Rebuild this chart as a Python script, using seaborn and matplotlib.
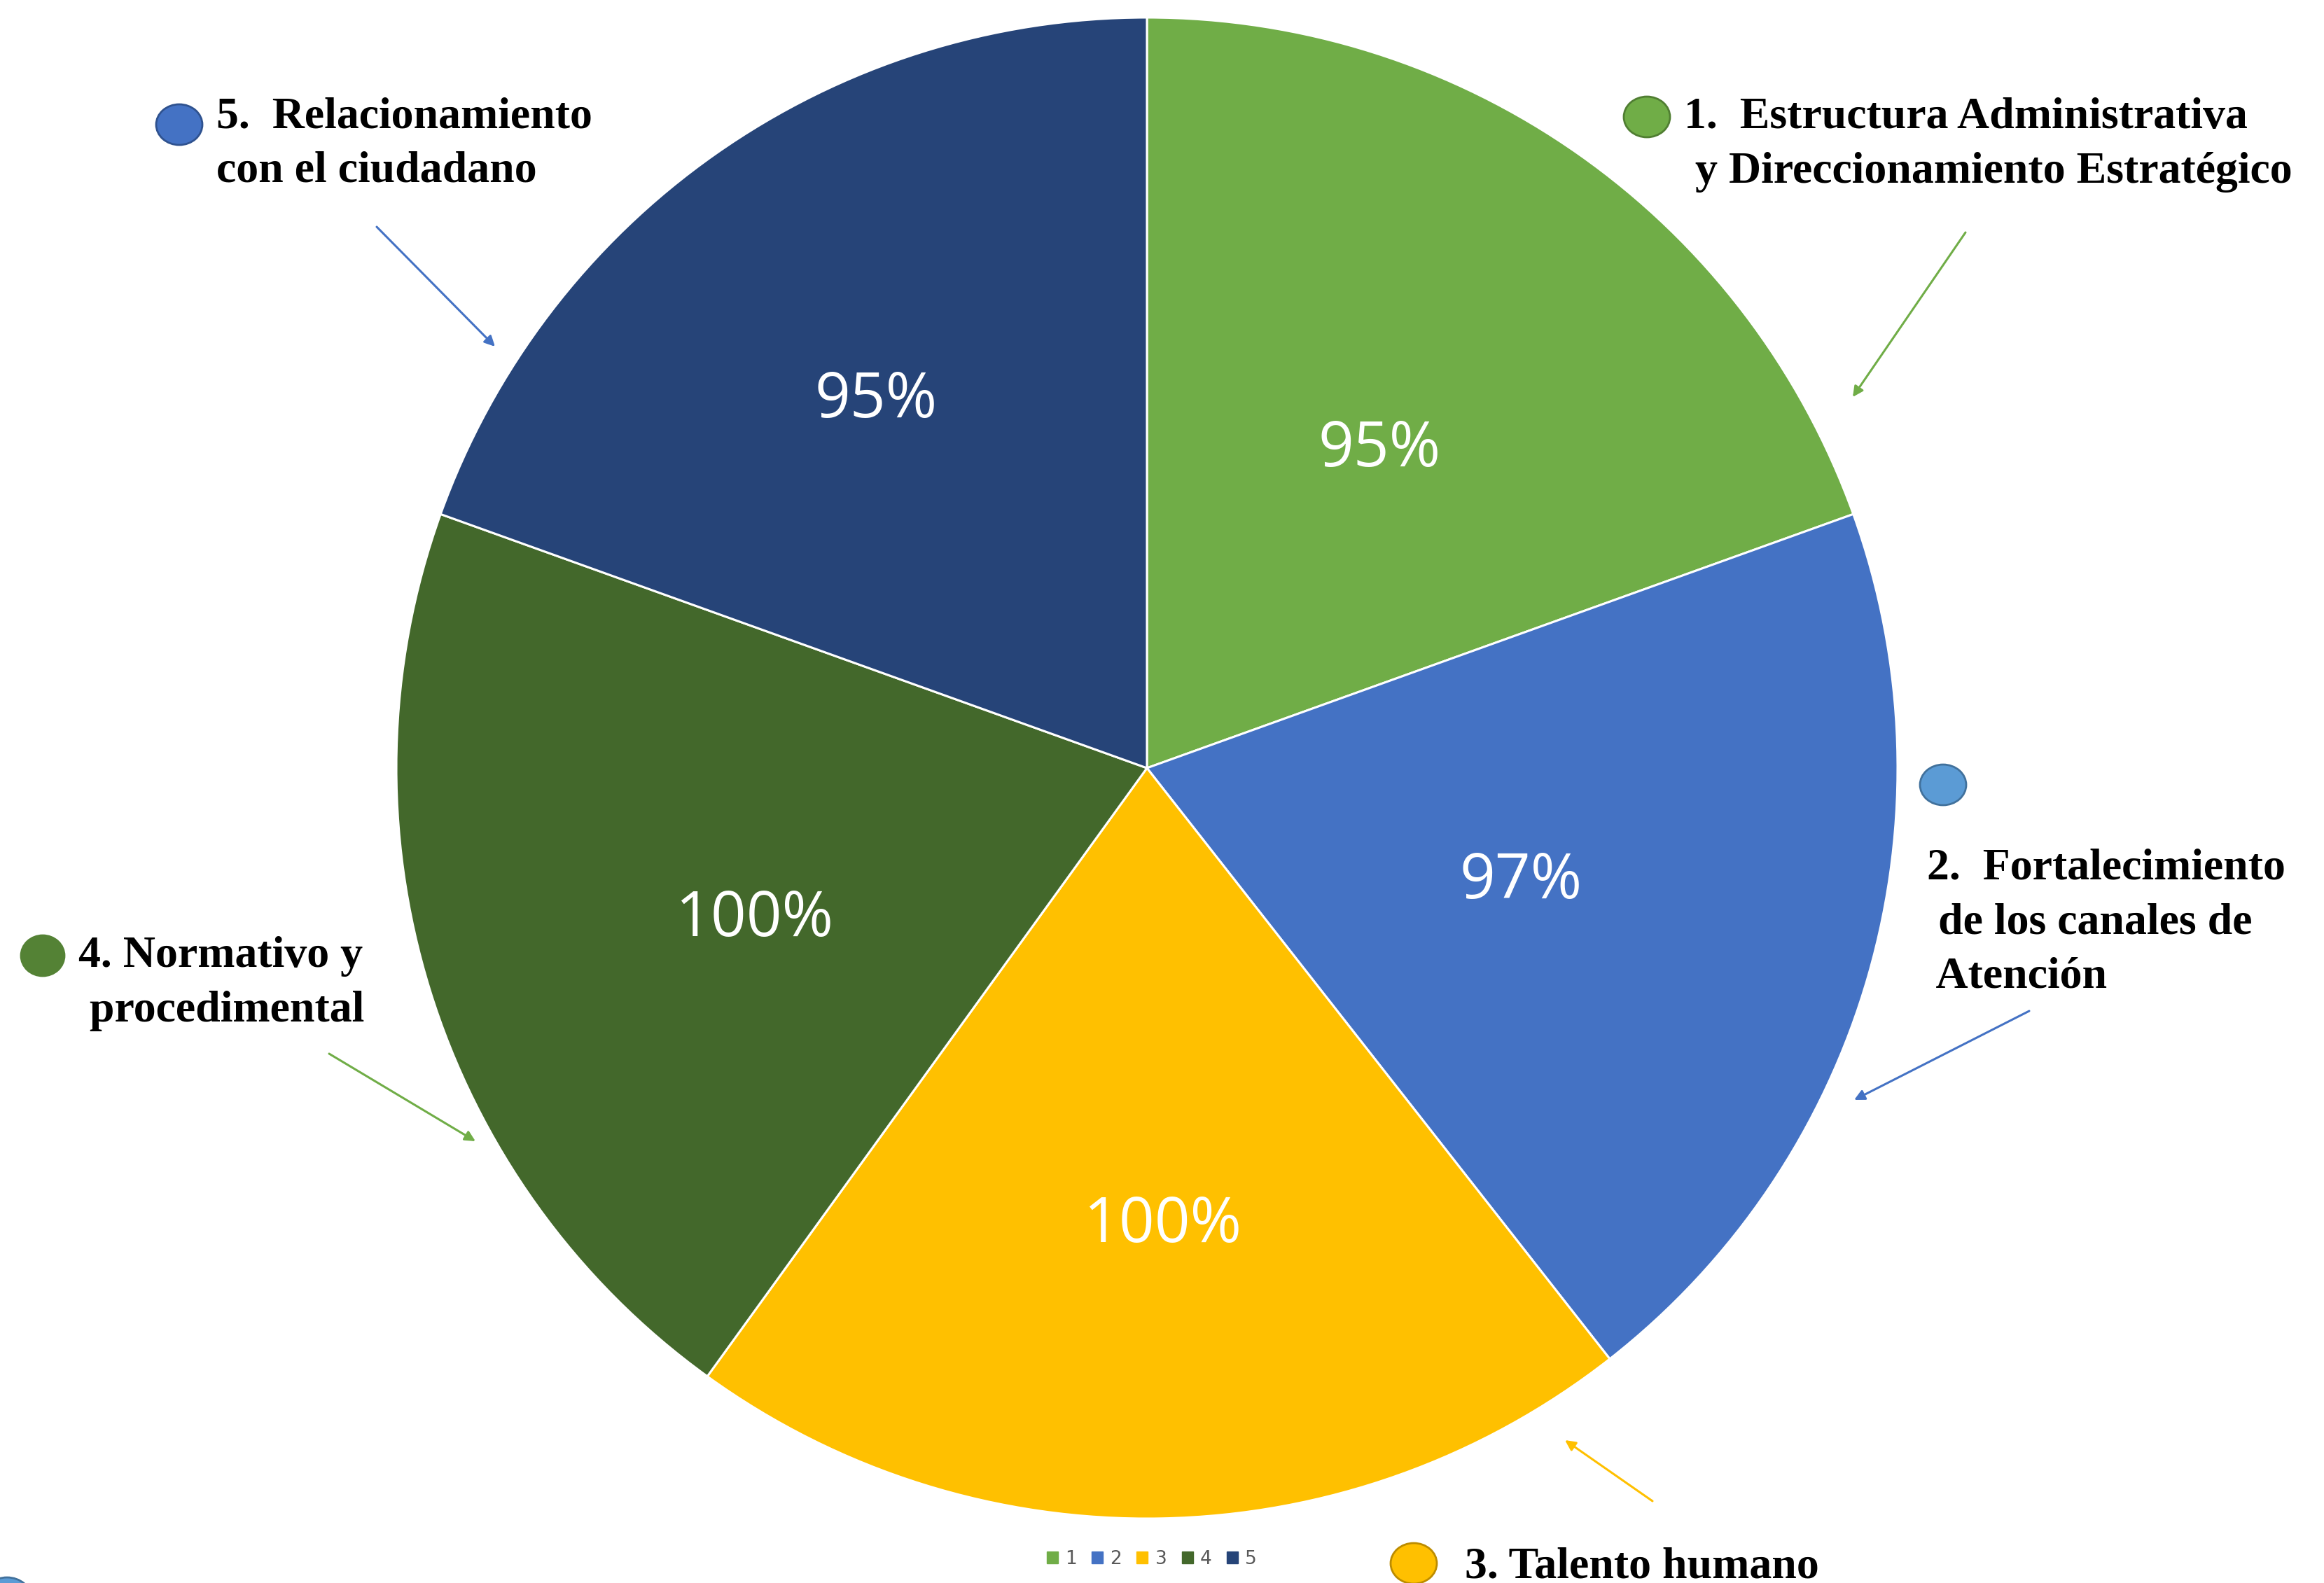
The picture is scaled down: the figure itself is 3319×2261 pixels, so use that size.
import matplotlib
matplotlib.use("Agg")
import matplotlib.pyplot as plt
import seaborn as sns
import numpy as np
from matplotlib.patches import Ellipse, Patch

# ---- data ----
categories = ["1", "2", "3", "4", "5"]
values = [95, 97, 100, 100, 95]
pct_labels = ["95%", "97%", "100%", "100%", "95%"]
label_texts = [
    "1.  Estructura Administrativa\n y Direccionamiento Estratégico",
    "2.  Fortalecimiento\n de los canales de\n Atención",
    "3. Talento humano",
    "4. Normativo y\n procedimental",
    "5.  Relacionamiento\ncon el ciudadano",
]
colors = ["#70AD47", "#4472C4", "#FFC000", "#43682B", "#264478"]

sns.set_theme(style="white")
plt.rcParams['font.family'] = ['DejaVu Sans']

W, H = 3319, 2261
fig = plt.figure(figsize=(W / 100, H / 100), dpi=100)
fig.patch.set_facecolor("white")

# pie axes
cx, cy, R = 1638, 1097, 1072
ax = fig.add_axes([(cx - R) / W, (H - cy - R) / H, 2 * R / W, 2 * R / H])
palette = sns.color_palette(colors)
wedges, _ = ax.pie(values, colors=palette, startangle=90, counterclock=False,
                   radius=1.0, wedgeprops=dict(edgecolor="white", linewidth=2.2))
ax.set_xlim(-1, 1)
ax.set_ylim(-1, 1)
ax.set_aspect("equal")
ax.axis("off")

# label placement (radius fraction, angle in degrees)
label_radius = [0.525, 0.521, 0.61, 0.56, 0.608]
label_angle = [53.9, -16.9, -88.0, -158.8, 126.4]
for txt, r, a in zip(pct_labels, label_radius, label_angle):
    ang = np.deg2rad(a)
    ax.text(r * np.cos(ang), r * np.sin(ang), txt, color="white",
            ha="center", va="center", fontsize=64, family="Open Sans")

# overlay axes in pixel coordinates for annotations
ov = fig.add_axes([0, 0, 1, 1])
ov.set_xlim(0, W)
ov.set_ylim(H, 0)
ov.axis("off")
ov.patch.set_alpha(0)

serif = dict(family="Liberation Serif", fontweight="bold", fontsize=46,
             color="black", va="center", ha="left", linespacing=1.45)

# circles (x, y, w, h, face, edge)
circles = [
    (2352, 167, 66, 58, "#70AD47", "#507E32"),
    (2775, 1121, 66, 58, "#5B9BD5", "#41719C"),
    (2019, 2233, 66, 58, "#FFC000", "#BC8C00"),
    (61, 1365, 62, 58, "#548235", "#548235"),
    (256, 178, 66, 58, "#4472C4", "#2F528F"),
]
for x, y, w, h, fc, ec in circles:
    ov.add_patch(Ellipse((x, y), w, h, facecolor=fc, edgecolor=ec, linewidth=2))
ov.add_patch(Ellipse((10, 2283), 70, 60, facecolor="#5B9BD5", edgecolor="#41719C", linewidth=2))

# texts
text_pos = [(2405, 207), (2752, 1318), (2092, 2238), (112, 1405), (309, 206)]
for (x, y), t in zip(text_pos, label_texts):
    ov.text(x, y, t, **serif)

# arrows
arrows = [
    ((2807, 332), (2646, 567), "#70AD47"),
    ((2898, 1444), (2648, 1571), "#4472C4"),
    ((2360, 2144), (2235, 2057), "#FFC000"),
    ((470, 1505), (679, 1630), "#70AD47"),
    ((538, 324), (707, 495), "#4472C4"),
]
for (x0, y0), (x1, y1), c in arrows:
    ov.annotate("", xy=(x1, y1), xytext=(x0, y0),
                arrowprops=dict(arrowstyle="-|>", color=c, lw=2.2,
                                mutation_scale=22, shrinkA=0, shrinkB=0))

# legend
handles = [Patch(facecolor=c, edgecolor=c, label=l) for c, l in zip(colors, categories)]
leg = fig.legend(handles=handles, loc="center", bbox_to_anchor=(1645 / W, 1 - 2227 / H),
                 ncol=5, frameon=False, fontsize=19, handlelength=0.6, handleheight=0.6,
                 handletextpad=0.4, columnspacing=0.8, labelcolor="#595959")

fig.savefig("out.png", dpi=100, facecolor="white")
